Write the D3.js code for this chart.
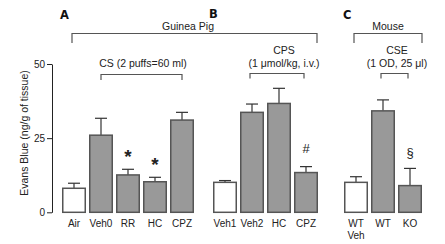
<!DOCTYPE html>
<html>
<head>
<meta charset="utf-8">
<script src="https://cdn.jsdelivr.net/npm/d3@7"></script>
<style>
  body { margin: 0; background: #fff; }
  svg { display: block; font-family: "Liberation Sans", Arial, sans-serif; }
</style>
</head>
<body>
<svg id="chart" width="445" height="244"></svg>
<script>
// data (ng/g of tissue)
const catsA = ["Air", "Veh0", "RR", "HC", "CPZ"];
const meanA = [8.1, 26.0, 12.6, 10.3, 31.1];
const errA = [9.8, 31.7, 14.5, 11.8, 33.7];
const marksA = ["", "", "*", "*", ""];

const catsB = ["Veh1", "Veh2", "HC", "CPZ"];
const meanB = [10.1, 33.7, 36.7, 13.4];
const errB = [10.7, 36.5, 41.8, 15.4];
const marksB = ["", "", "", "#"];

const catsC = ["WT Veh", "WT", "KO"];
const meanC = [10.1, 34.2, 9.0];
const errC = [12.0, 37.9, 14.8];
const marksC = ["", "", "§"];

const controls = ["Air", "Veh1", "WT Veh"];
const yTicks = [0, 25, 50];

const svg = d3.select("#chart");

const y = d3.scaleLinear().domain([0, 50]).range([212.3, 64]);

// y axis
const yAxis = d3.axisLeft(y).tickValues(yTicks).tickSize(5).tickSizeOuter(0);
const ag = svg.append("g").attr("transform", "translate(52,0)").call(yAxis);
ag.select(".domain").attr("stroke", "#222").attr("stroke-width", 1);
ag.selectAll(".tick line").attr("stroke", "#222");
ag.selectAll(".tick text").attr("font-size", 10).attr("fill", "#222").attr("x", -7);

svg.append("text")
  .attr("transform", "translate(25,133) rotate(-90)")
  .attr("text-anchor", "middle")
  .attr("dominant-baseline", "middle")
  .attr("font-size", 10.5)
  .attr("fill", "#222")
  .text("Evans Blue (ng/g of tissue)");

const panels = [
  { cats: catsA, mean: meanA, err: errA, marks: marksA, x0: 62 },
  { cats: catsB, mean: meanB, err: errB, marks: marksB, x0: 213 },
  { cats: catsC, mean: meanC, err: errC, marks: marksC, x0: 344 }
];

panels.forEach(p => {
  const n = p.cats.length;
  p.x = d3.scaleBand().domain(p.cats).range([p.x0, p.x0 + n * 27 - 3]).paddingInner(3 / 27);
  const x = p.x;
  const rows = p.cats.map((c, i) => ({ c, m: p.mean[i], e: p.err[i], mk: p.marks[i] }));
  const g = svg.append("g");

  // error bars (drawn first so bar covers lower part)
  g.selectAll(".err").data(rows).enter().append("line")
    .attr("x1", d => x(d.c) + x.bandwidth() / 2)
    .attr("x2", d => x(d.c) + x.bandwidth() / 2)
    .attr("y1", d => y(d.m))
    .attr("y2", d => y(d.e))
    .attr("stroke", "#333").attr("stroke-width", 1.2);
  g.selectAll(".cap").data(rows).enter().append("line")
    .attr("x1", d => x(d.c) + x.bandwidth() / 2 - 6)
    .attr("x2", d => x(d.c) + x.bandwidth() / 2 + 6)
    .attr("y1", d => y(d.e))
    .attr("y2", d => y(d.e))
    .attr("stroke", "#333").attr("stroke-width", 1.2);

  g.selectAll(".bar").data(rows).enter().append("rect")
    .attr("x", d => x(d.c) + 0.75)
    .attr("y", d => y(d.m))
    .attr("width", x.bandwidth() - 1.5)
    .attr("height", d => y(0) - y(d.m))
    .attr("fill", d => controls.includes(d.c) ? "#fff" : "#999")
    .attr("stroke", "#555").attr("stroke-width", 1.5);

  // significance marks
  g.selectAll(".mk").data(rows.filter(d => d.mk)).enter().append("text")
    .attr("x", d => x(d.c) + x.bandwidth() / 2)
    .attr("y", d => y(d.e) - (d.mk === "*" ? 6 : d.mk === "#" ? 14 : 11))
    .attr("text-anchor", "middle")
    .attr("font-size", d => d.mk === "*" ? 19 : 13)
    .attr("font-weight", d => d.mk === "*" ? "bold" : "normal")
    .attr("fill", "#222")
    .text(d => d.mk);

  // category labels
  const lab = g.selectAll(".lab").data(rows).enter().append("text")
    .attr("x", d => x(d.c) + x.bandwidth() / 2)
    .attr("y", 227)
    .attr("text-anchor", "middle")
    .attr("font-size", 10)
    .attr("fill", "#222");
  lab.each(function (d) {
    const parts = d.c.split(" ");
    d3.select(this).selectAll("tspan").data(parts).enter().append("tspan")
      .attr("x", x(d.c) + x.bandwidth() / 2)
      .attr("dy", (s, i) => i ? 11.5 : 0)
      .text(s => s);
  });
});

function bracket(x1, x2, yTop, yBot) {
  svg.append("path")
    .attr("d", `M${x1},${yBot}V${yTop}H${x2}V${yBot}`)
    .attr("fill", "none").attr("stroke", "#555").attr("stroke-width", 1.2);
}
function label(tx, ty, s, size, weight) {
  svg.append("text").attr("x", tx).attr("y", ty)
    .attr("text-anchor", "middle").attr("font-size", size || 10)
    .attr("font-weight", weight || "normal").attr("fill", "#222").text(s);
}

const [pA, pB, pC] = panels;
const mid = (p, c) => p.x(c) + p.x.bandwidth() / 2;

// panel letters
const letter = (lx, ly, s) => svg.append("text").attr("x", lx).attr("y", ly)
  .attr("font-family", "'DejaVu Sans', sans-serif")
  .attr("font-size", 11.5).attr("font-weight", "bold").attr("fill", "#111").text(s);
letter(60, 19, "A");
letter(209, 18, "B");
letter(343, 19, "C");

// species brackets
label(188, 30, "Guinea Pig", 10.5);
bracket(72, 317, 33.5, 43);
label(388, 30, "Mouse", 10.5);
bracket(354, 422, 33.5, 43);

// treatment brackets
label(143, 67, "CS (2 puffs=60 ml)", 10.5);
bracket(mid(pA, "Veh0"), mid(pA, "CPZ"), 74.5, 80);
label(284, 54, "CPS", 10.5);
label(284, 67, "(1 μmol/kg, i.v.)", 10.5);
bracket(mid(pB, "Veh2") - 2, mid(pB, "CPZ") - 2, 73.5, 78.5);
label(397, 54, "CSE", 10.5);
label(397, 67, "(1 OD, 25 μl)", 10.5);
bracket(mid(pC, "WT") - 2, mid(pC, "KO") - 2, 73.5, 78.5);
</script>
</body>
</html>
